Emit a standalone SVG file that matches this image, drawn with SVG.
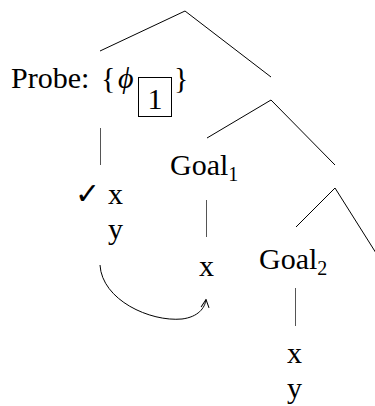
<svg xmlns="http://www.w3.org/2000/svg" width="375" height="406" viewBox="0 0 375 406">
<style>
  text { font-family: "Liberation Serif", "Times New Roman", serif; font-size: 30px; fill: #000; }
  .sub { font-size: 20px; }
  .edge { stroke: #000; stroke-width: 1; fill: none; }
  .vert { stroke: #555; stroke-width: 1; fill: none; }
</style>
<defs>
  <marker id="arr" viewBox="0 0 10 10" refX="9" refY="5" markerWidth="10" markerHeight="10" markerUnits="userSpaceOnUse" orient="auto">
    <path d="M1,1 L9,5 L1,9" fill="none" stroke="#000" stroke-width="1"/>
  </marker>
</defs>
<g id="connectors">
  <polyline class="edge" points="100,51 185,11 271,77"/>
  <polyline class="edge" points="207,138 271,100 335,165"/>
  <polyline class="edge" points="296,227 335,188 376,253"/>
  <line class="vert" x1="100.5" y1="128" x2="100.5" y2="165"/>
  <line class="vert" x1="206.5" y1="200" x2="206.5" y2="237"/>
  <line class="vert" x1="295.5" y1="288" x2="295.5" y2="326"/>
  <path class="edge" d="M100,265 C102,300 150,322 182,319 C198,317 205,308 206,299.5" marker-end="url(#arr)"/>
</g>
<g id="probe">
  <text x="11" y="88">Probe:</text>
  <text x="101" y="88">{</text>
  <text x="118" y="88" font-style="italic">ϕ</text>
  <rect x="138.5" y="77.5" width="33" height="39" fill="none" stroke="#000" stroke-width="1"/>
  <text x="155" y="108.5" text-anchor="middle">1</text>
  <text x="174" y="88">}</text>
</g>
<g id="probe-features">
  <text x="75" y="204" style="font-family: 'DejaVu Sans', sans-serif; font-size: 30px; font-weight: bold;">✓</text>
  <text x="108" y="204">x</text>
  <text x="108" y="239">y</text>
</g>
<g id="goal1">
  <text x="170" y="175">Goal<tspan class="sub" dy="6">1</tspan></text>
  <text x="199" y="276">x</text>
</g>
<g id="goal2">
  <text x="259" y="269">Goal<tspan class="sub" dy="6">2</tspan></text>
  <text x="287" y="363">x</text>
  <text x="287" y="398">y</text>
</g>
</svg>
